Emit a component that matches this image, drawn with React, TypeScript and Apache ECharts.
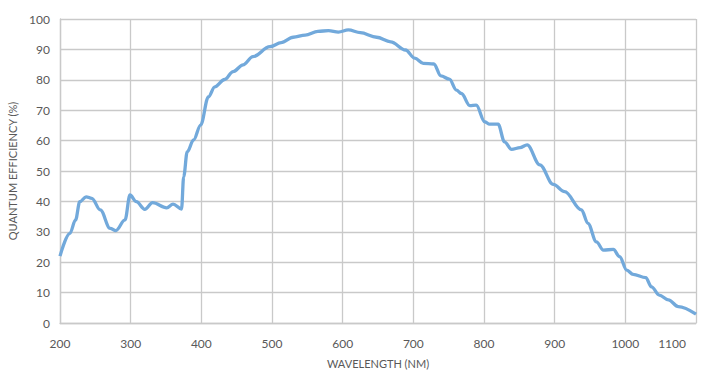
import React, { useEffect, useRef } from "react";
import * as echarts from "echarts";

const wavelengths = [
  200, 214, 222, 228, 237, 245, 257, 271, 279, 292, 299, 308, 320, 331, 351, 360, 372,
  375, 380, 389, 399, 410, 419, 433, 445, 459, 473, 497, 513, 530, 547, 565, 580, 594,
  608, 625, 648, 668, 689, 702, 714, 729, 739, 751, 761, 768, 780, 789, 801, 808, 820,
  829, 839, 851, 861, 879, 898, 914, 938, 947, 959, 969, 983, 992, 1002, 1011, 1029,
  1037, 1048, 1061, 1075, 1100,
];
const efficiency = [
  22.0, 29.5, 33.9, 39.9, 41.5, 41.0, 37.2, 31.1, 30.4, 33.9, 42.1, 39.9, 37.4, 39.6, 37.9, 39.1, 37.5,
  48.1, 56.3, 60.2, 65.1, 74.4, 77.7, 80.1, 82.7, 84.9, 87.6, 90.9, 92.2, 94.0, 94.7, 95.9, 96.2, 95.7,
  96.4, 95.5, 94.0, 92.5, 89.8, 87.1, 85.4, 85.2, 81.3, 80.2, 76.6, 75.5, 71.5, 71.7, 66.2, 65.4, 65.4,
  59.6, 57.1, 57.7, 58.6, 52.0, 45.6, 43.2, 37.2, 32.8, 26.7, 24.0, 24.2, 21.8, 17.4, 16.0, 14.9,
  11.9, 9.2, 7.6, 5.4, 2.9,
];
const xAxisName = "WAVELENGTH (NM)";
const yAxisName = "QUANTUM EFFICIENCY (%)";

export default function App() {
  const ref = useRef<HTMLDivElement>(null);
  useEffect(() => {
    if (!ref.current) return;
    const chart = echarts.init(ref.current, undefined, { renderer: "svg" });
    const font = "Lato";
    const labelColor = "#595959";
    const gridColor = "#c9c9c9";
    chart.setOption({
      animation: false,
      grid: { left: 60, right: 8, top: 19, bottom: 57, containLabel: false, outerBoundsMode: "none" },
      xAxis: {
        type: "value",
        min: 200,
        max: 1100,
        interval: 100,
        name: xAxisName,
        nameLocation: "middle",
        nameGap: 35,
        nameTextStyle: { fontFamily: font, fontSize: 11, color: labelColor },
        axisLine: { show: true, lineStyle: { color: gridColor, width: 1.3 } },
        axisTick: { show: false },
        axisLabel: {
          fontFamily: font,
          fontSize: 12,
          color: labelColor,
          margin: 14,
          alignMaxLabel: "right",
          formatter: (v: number) => (v === 1100 ? "{last|" + String(v) + "}" : String(v)),
          rich: {
            last: { fontFamily: font, fontSize: 12, color: labelColor, padding: [0, 10, 0, 0] },
          },
        },
        splitLine: { show: true, lineStyle: { color: gridColor, width: 1.3 } },
      },
      yAxis: {
        type: "value",
        min: 0,
        max: 100,
        interval: 10,
        name: yAxisName,
        nameLocation: "middle",
        nameGap: 31,
        nameTextStyle: { fontFamily: font, fontSize: 11, color: labelColor },
        axisLine: { show: true, lineStyle: { color: gridColor, width: 1.3 } },
        axisTick: { show: false },
        axisLabel: { fontFamily: font, fontSize: 12, color: labelColor, margin: 10, padding: [0, 0, 6, 0] },
        splitLine: { show: true, lineStyle: { color: gridColor, width: 1.3 } },
      },
      series: [
        {
          type: "line",
          data: wavelengths.map((w, i) => [w, efficiency[i]]),
          showSymbol: false,
          smooth: 0.35,
          smoothMonotone: "x",
          lineStyle: { color: "#72a9db", width: 3.3 },
        },
      ],
    });
    return () => chart.dispose();
  }, []);
  return (
    <div
      ref={ref}
      style={{ position: "fixed", left: 0, top: 0, width: 704, height: 380, background: "#fff" }}
    />
  );
}
